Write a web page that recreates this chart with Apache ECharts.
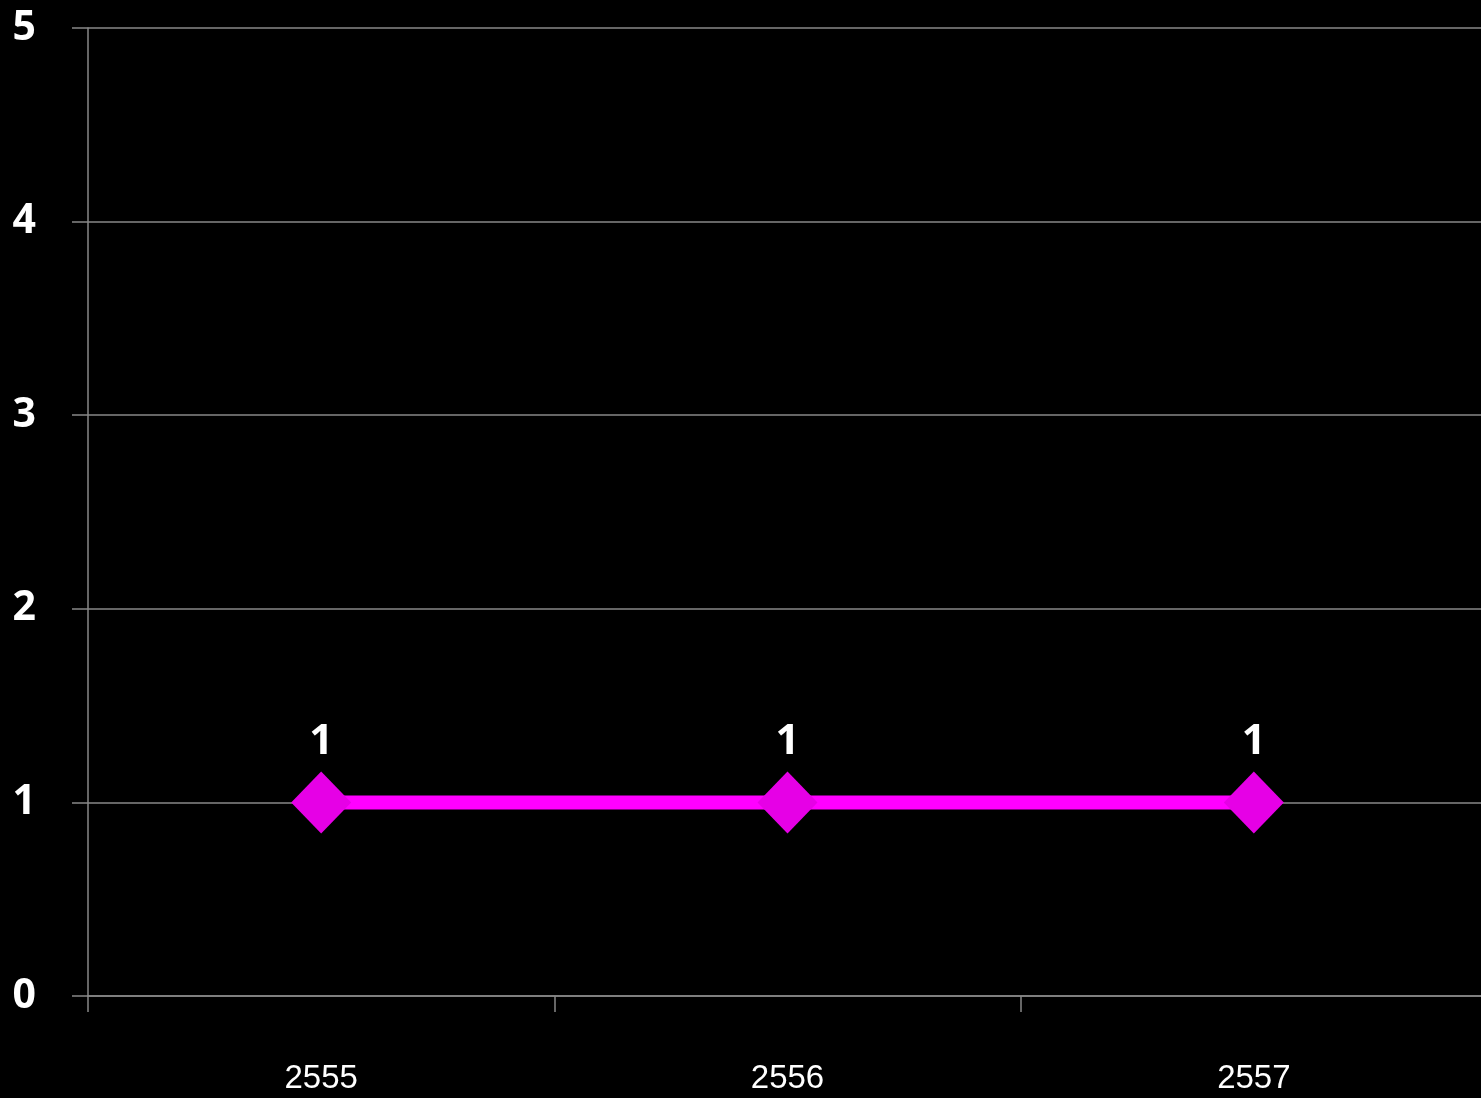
<!DOCTYPE html>
<html><head><meta charset="utf-8">
<style>html,body{margin:0;padding:0;background:#000;overflow:hidden;}#c{width:1487px;height:1098px;}</style>
<script src="https://cdn.jsdelivr.net/npm/echarts@6/dist/echarts.min.js"></script>
</head><body><div id="c"></div>
<script>
const categories = ['2555', '2556', '2557'];
const values = [1, 1, 1];
const yTicks = {min: 0, max: 5, interval: 1};

const chart = echarts.init(document.getElementById('c'));
chart.setOption({
  backgroundColor: '#000',
  animation: false,
  grid: {left: 88, right: 0, top: 28, bottom: 102, containLabel: false},
  xAxis: {
    type: 'category', data: categories, boundaryGap: true,
    axisLine: {show: true, lineStyle: {color: '#888', width: 1.5}},
    axisTick: {show: true, length: 16, lineStyle: {color: '#888', width: 1.5}},
    axisLabel: {color: '#fff', fontSize: 33, fontFamily: 'Liberation Sans', margin: 66},
    splitLine: {show: false}
  },
  yAxis: {
    type: 'value', min: yTicks.min, max: yTicks.max, interval: yTicks.interval,
    axisLine: {show: true, lineStyle: {color: '#888', width: 1.5}},
    axisTick: {show: true, length: 16, lineStyle: {color: '#888', width: 1.5}},
    axisLabel: {color: '#fff', fontSize: 41, fontWeight: 'bold', fontFamily: 'Open Sans', margin: 52},
    splitLine: {show: true, lineStyle: {color: '#888', width: 1.5}}
  },
  series: [{
    type: 'line', data: values,
    symbol: 'diamond', symbolSize: [60, 62],
    lineStyle: {color: '#ff00ff', width: 14},
    itemStyle: {color: '#e600e6'},
    label: {show: true, position: 'top', distance: 8, color: '#fff', fontSize: 42, fontWeight: 'bold', fontFamily: 'Open Sans'}
  }]
});
</script></body></html>
